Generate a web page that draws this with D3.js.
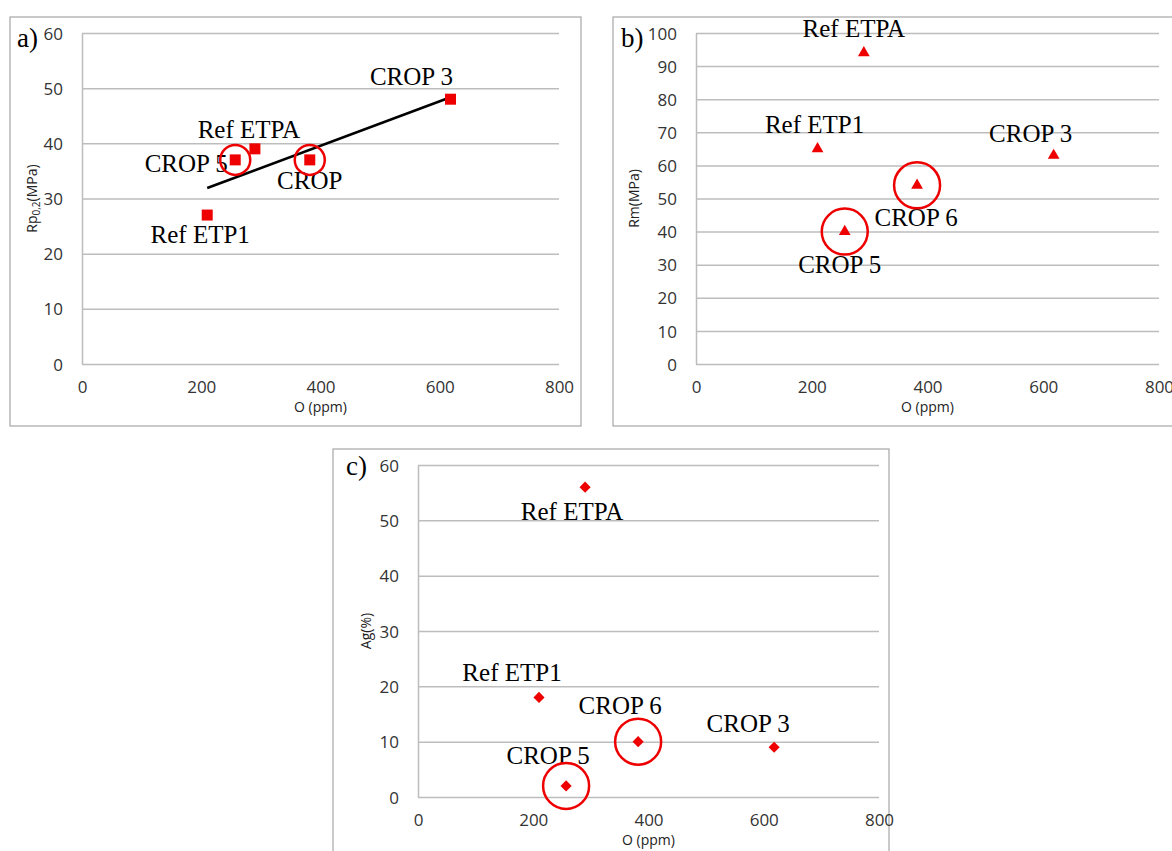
<!DOCTYPE html>
<html>
<head>
<meta charset="utf-8">
<script src="https://cdn.jsdelivr.net/npm/d3@7"></script>
<style>
  body { margin: 0; background: #fff; }
  svg { display: block; }
  .tick text { font-family: 'Open Sans', sans-serif; font-size: 17px; fill: #333; }
  .tick line, .domain { stroke: #bdbdbd; stroke-width: 1.5; }
  .ptlabel { font-family: 'Liberation Serif', 'Times New Roman', serif; font-size: 25px; fill: #000; }
  .title { font-family: 'Open Sans', sans-serif; font-size: 14px; fill: #222; }
  .panel { font-family: 'Liberation Serif', 'Times New Roman', serif; font-size: 27px; fill: #000; }
</style>
</head>
<body>
<div id="chart"></div>
<script>
// samples, same order in every panel
const samples = ['Ref ETP1', 'CROP 5', 'Ref ETPA', 'CROP 6', 'CROP 3']
const oxygen = [210, 257, 290, 382, 618]
const circled = ['CROP 5', 'CROP 6']

// a) yield strength
const rp02 = [27, 37, 39, 37, 48]
const labelsA = ['Ref ETP1', 'CROP 5', 'Ref ETPA', 'CROP', 'CROP 3']
// b) tensile strength
const rm = [65, 40, 94, 54, 63]
// c) elongation
const ag = [18, 2, 56, 10, 9]

const xTicks = [0, 200, 400, 600, 800]
const yTicksA = [0, 10, 20, 30, 40, 50, 60]
const yTicksB = [0, 10, 20, 30, 40, 50, 60, 70, 80, 90, 100]
const yTicksC = [0, 10, 20, 30, 40, 50, 60]

const width = 1172, height = 851
const svg = d3.select('#chart').append('svg')
  .attr('width', width)
  .attr('height', height)

const panels = [
  {
    tag: 'a)', values: rp02, labels: labelsA, yMax: 60, yTicks: yTicksA,
    frame: [10, 17, 571, 409], plot: [82, 33, 559, 364],
    symbol: d3.symbolSquare, symSize: 121, rotate: 0, ring: 15, trend: true,
    offsets: [[-7, 28], [-49, 12], [-6, -11], [0, 29], [-39, -14]]
  },
  {
    tag: 'b)', values: rm, labels: samples, yMax: 100, yTicks: yTicksB,
    frame: [613, 17, 600, 409], plot: [696, 33, 1159, 364],
    symbol: d3.symbolTriangle, symSize: 60, rotate: 0, ring: 23, trend: false,
    offsets: [[-3, -16], [-5, 41], [-10, -16], [-1, 41], [-23, -13]]
  },
  {
    tag: 'c)', values: ag, labels: samples, yMax: 60, yTicks: yTicksC,
    frame: [333, 449, 556, 430], plot: [418, 465, 879, 797],
    symbol: d3.symbolSquare, symSize: 62, rotate: 45, ring: 23, trend: false,
    offsets: [[-27, -16], [-18, -22], [-13, 33], [-18, -28], [-26, -15]]
  }
]

panels.forEach((p, i) => {
  const [fx, fy, fw, fh] = p.frame
  svg.append('rect')
    .attr('x', fx).attr('y', fy)
    .attr('width', fw).attr('height', fh)
    .attr('fill', '#fff')
    .attr('stroke', '#a6a6a6')
    .attr('stroke-width', 1.2)

  const [l, t, r, b] = p.plot
  const x = d3.scaleLinear().domain([0, 800]).range([l, r])
  const y = d3.scaleLinear().domain([0, p.yMax]).range([b, t])

  // horizontal grid + left axis line
  const yAxis = svg.append('g')
    .attr('transform', `translate(${l},0)`)
    .call(d3.axisLeft(y).tickValues(p.yTicks).tickSize(-(r - l)).tickSizeOuter(0).tickPadding(19))
  yAxis.selectAll('.tick text').attr('dy', '0.36em')

  const xAxis = svg.append('g')
    .attr('transform', `translate(0,${b})`)
    .call(d3.axisBottom(x).tickValues(xTicks).tickSize(0).tickPadding(17))
  xAxis.select('.domain').remove()

  // axis titles
  svg.append('text').attr('class', 'title')
    .attr('x', (l + r) / 2).attr('y', b + 48)
    .attr('text-anchor', 'middle')
    .text('O (ppm)')

  const yt = svg.append('text').attr('class', 'title')
    .attr('text-anchor', 'middle')
    .attr('transform', `translate(${l - 45 - (i === 1 ? 12 : 0) + (i === 2 ? -2 : 0)},${(t + b) / 2}) rotate(-90)`)
  if (i === 0) {
    yt.append('tspan').text('Rp')
    yt.append('tspan').attr('font-size', '10px').attr('dy', 3).text('0,2')
    yt.append('tspan').attr('dy', -3).text('(MPa)')
  } else if (i === 1) {
    yt.text('Rm(MPa)')
  } else {
    yt.text('Ag(%)')
  }

  // panel tag
  svg.append('text').attr('class', 'panel')
    .attr('x', fx + 7 + (i === 1 ? 1 : 0) + (i === 2 ? 6 : 0))
    .attr('y', fy + 30 + (i === 2 ? -4 : 0))
    .text(p.tag)

  const pts = samples.map((s, k) => ({ name: s, label: p.labels[k], x: oxygen[k], y: p.values[k], off: p.offsets[k] }))

  // linear trend line (least squares) for panel a
  if (p.trend) {
    const mx = d3.mean(pts, d => d.x), my = d3.mean(pts, d => d.y)
    const sxy = d3.sum(pts, d => (d.x - mx) * (d.y - my))
    const sxx = d3.sum(pts, d => (d.x - mx) * (d.x - mx))
    const slope = sxy / sxx
    const ends = d3.extent(pts, d => d.x).map(v => [v, my + slope * (v - mx)])
    svg.append('path')
      .attr('d', d3.line().x(d => x(d[0])).y(d => y(d[1]))(ends))
      .attr('stroke', '#000')
      .attr('stroke-width', 2.5)
      .attr('fill', 'none')
  }

  svg.selectAll(null)
    .data(pts)
    .enter().append('path')
    .attr('d', d3.symbol().type(p.symbol).size(p.symSize))
    .attr('transform', d => `translate(${x(d.x)},${y(d.y)}) rotate(${p.rotate})`)
    .attr('fill', '#ee0000')

  svg.selectAll(null)
    .data(pts)
    .enter().append('text')
    .attr('class', 'ptlabel')
    .attr('text-anchor', 'middle')
    .attr('x', d => x(d.x) + d.off[0])
    .attr('y', d => y(d.y) + d.off[1])
    .text(d => d.label)

  svg.selectAll(null)
    .data(pts.filter(d => circled.includes(d.name)))
    .enter().append('circle')
    .attr('cx', d => x(d.x))
    .attr('cy', d => y(d.y))
    .attr('r', p.ring)
    .attr('fill', 'none')
    .attr('stroke', '#ee0000')
    .attr('stroke-width', 2.5)
})
</script>
</body>
</html>
